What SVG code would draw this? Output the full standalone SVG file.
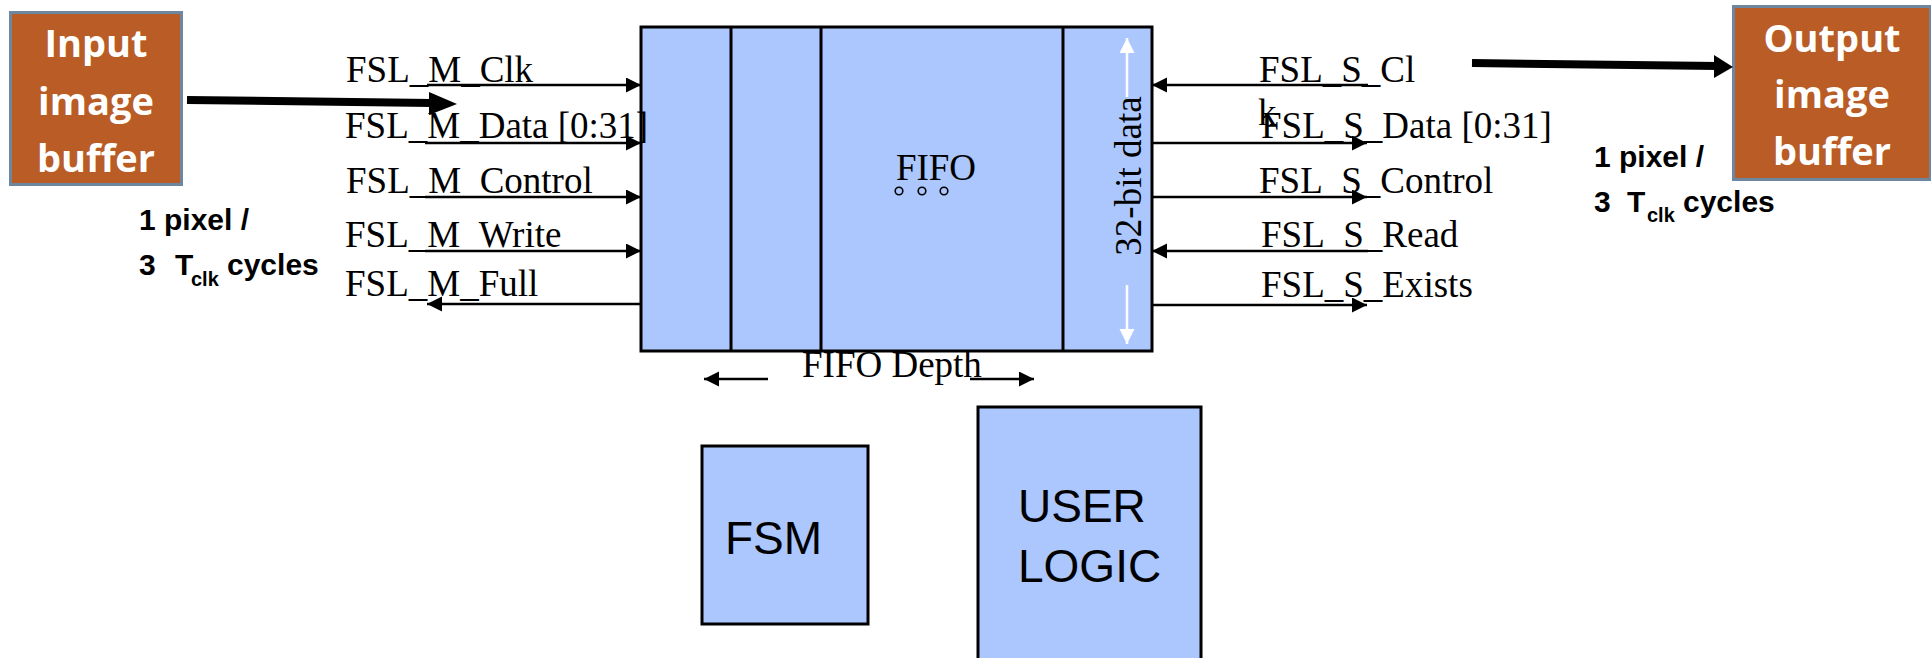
<svg xmlns="http://www.w3.org/2000/svg" width="1931" height="658" viewBox="0 0 1931 658">
<style>
.lbl{font-family:"Liberation Serif","Times New Roman",serif;font-size:37px;fill:#000}
.buf{fill:#b95c25;stroke:#6d87a0;stroke-width:3}
.buft{font-family:"Open Sans","DejaVu Sans",sans-serif;font-weight:bold;font-size:38px;fill:#fff;text-anchor:middle}
.rate{font-family:"Liberation Sans",Arial,sans-serif;font-weight:bold;font-size:30px;fill:#000}
.blk{fill:#abc7fd;stroke:#000;stroke-width:3}
.sig{stroke:#000;stroke-width:2.5;fill:none}
.ar{font-family:"Liberation Sans",Arial,sans-serif;font-size:46px;fill:#000}
</style>
<defs>
<marker id="ah" markerUnits="userSpaceOnUse" markerWidth="16" markerHeight="16" refX="15" refY="7.5" orient="auto">
<path d="M0,0 L15,7.5 L0,15 Z" fill="#000"/>
</marker>
<marker id="wh" markerUnits="userSpaceOnUse" markerWidth="16" markerHeight="16" refX="15" refY="7.5" orient="auto">
<path d="M0,0 L15,7.5 L0,15 Z" fill="#fff"/>
</marker>
</defs>
<rect width="1931" height="658" fill="#fff"/>

<g id="input-buffer">
<rect class="buf" x="10.5" y="12.5" width="171" height="172"/>
<text class="buft" x="96" y="57">Input</text>
<text class="buft" x="96" y="115">image</text>
<text class="buft" x="96" y="172">buffer</text>
</g>

<g id="output-buffer">
<rect class="buf" x="1733.5" y="6.5" width="197" height="173"/>
<text class="buft" x="1832" y="52">Output</text>
<text class="buft" x="1832" y="108">image</text>
<text class="buft" x="1832" y="165">buffer</text>
</g>

<g id="rate-in">
<text class="rate" x="139" y="230">1 pixel /</text>
<text class="rate" x="139" y="275">3<tspan x="175">T</tspan><tspan x="191" y="286" font-size="20">clk</tspan><tspan x="227" y="275">cycles</tspan></text>
</g>
<g id="rate-out">
<text class="rate" x="1594" y="167">1 pixel /</text>
<text class="rate" x="1594" y="212">3<tspan x="1627">T</tspan><tspan x="1647" y="222" font-size="20">clk</tspan><tspan x="1683" y="212">cycles</tspan></text>
</g>

<g id="fifo-block">
<rect class="blk" x="641" y="27" width="511" height="324"/>
<line x1="731" y1="27" x2="731" y2="351" stroke="#000" stroke-width="3"/>
<line x1="821" y1="27" x2="821" y2="351" stroke="#000" stroke-width="3"/>
<line x1="1063" y1="27" x2="1063" y2="351" stroke="#000" stroke-width="3"/>
<text class="lbl" x="936" y="180" text-anchor="middle" font-size="36">FIFO</text>
<circle cx="899" cy="191" r="3.8" fill="none" stroke="#000" stroke-width="1.6"/>
<circle cx="922" cy="191" r="3.8" fill="none" stroke="#000" stroke-width="1.6"/>
<circle cx="944" cy="191" r="3.8" fill="none" stroke="#000" stroke-width="1.6"/>
<line x1="1127" y1="97" x2="1127" y2="38" stroke="#fff" stroke-width="2.5" marker-end="url(#wh)"/>
<line x1="1127" y1="285" x2="1127" y2="344" stroke="#fff" stroke-width="2.5" marker-end="url(#wh)"/>
<text class="lbl" transform="translate(1141,176) rotate(-90)" text-anchor="middle">32-bit data</text>
</g>

<g id="fifo-depth">
<text class="lbl" x="802" y="377">FIFO Depth</text>
<line class="sig" x1="768" y1="379" x2="704" y2="379" marker-end="url(#ah)"/>
<line class="sig" x1="970" y1="379" x2="1034" y2="379" marker-end="url(#ah)"/>
</g>

<g id="fsm">
<rect class="blk" x="702" y="446" width="166" height="178" stroke-width="2.5"/>
<text class="ar" x="725" y="554">FSM</text>
</g>

<g id="user-logic">
<rect class="blk" x="978" y="407" width="223" height="270" stroke-width="2.5"/>
<text class="ar" x="1018" y="522">USER</text>
<text class="ar" x="1018" y="582">LOGIC</text>
</g>

<g id="labels">
<text class="lbl" x="346" y="82">FSL_M_Clk</text>
<text class="lbl" x="345" y="138">FSL_M_Data [0:31]</text>
<text class="lbl" x="346" y="193">FSL_M_Control</text>
<text class="lbl" x="345" y="247">FSL_M_Write</text>
<text class="lbl" x="345" y="296">FSL_M_Full</text>
<text class="lbl" x="1259" y="82">FSL_S_Cl</text>
<text class="lbl" x="1258" y="125">k</text>
<text class="lbl" x="1261" y="138">FSL_S_Data [0:31]</text>
<text class="lbl" x="1259" y="193">FSL_S_Control</text>
<text class="lbl" x="1261" y="247">FSL_S_Read</text>
<text class="lbl" x="1261" y="297">FSL_S_Exists</text>
</g>

<g id="connectors">
<line class="sig" x1="427" y1="85" x2="641" y2="85" marker-end="url(#ah)"/>
<line class="sig" x1="425" y1="143" x2="641" y2="143" marker-end="url(#ah)"/>
<line class="sig" x1="425" y1="197" x2="641" y2="197" marker-end="url(#ah)"/>
<line class="sig" x1="425" y1="251" x2="641" y2="251" marker-end="url(#ah)"/>
<line class="sig" x1="641" y1="304" x2="427" y2="304" marker-end="url(#ah)"/>
<line class="sig" x1="1368" y1="85" x2="1152" y2="85" marker-end="url(#ah)"/>
<line class="sig" x1="1152" y1="143" x2="1367" y2="143" marker-end="url(#ah)"/>
<line class="sig" x1="1152" y1="197" x2="1367" y2="197" marker-end="url(#ah)"/>
<line class="sig" x1="1368" y1="251" x2="1152" y2="251" marker-end="url(#ah)"/>
<line class="sig" x1="1152" y1="305" x2="1367" y2="305" marker-end="url(#ah)"/>
<line x1="187" y1="100" x2="432" y2="103" stroke="#000" stroke-width="8"/>
<polygon points="429,92 457,104 429,115" fill="#000"/>
<line x1="1472" y1="63" x2="1718" y2="66" stroke="#000" stroke-width="8"/>
<polygon points="1714,55 1733,67 1714,78" fill="#000"/>
</g>
</svg>
